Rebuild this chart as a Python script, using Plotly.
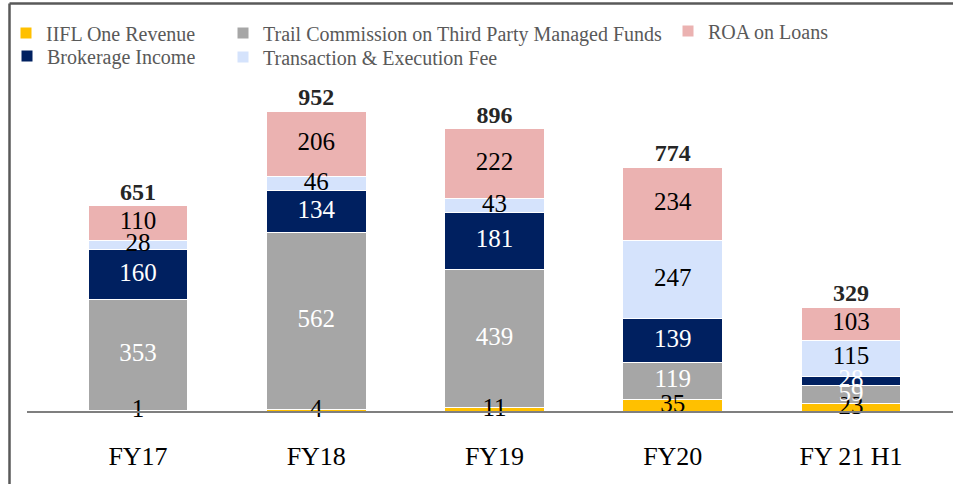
import plotly.graph_objects as go

categories = ["FY17", "FY18", "FY19", "FY20", "FY 21 H1"]
iifl_one = [1, 4, 11, 35, 23]
trail_commission = [353, 562, 439, 119, 59]
brokerage = [160, 134, 181, 139, 28]
transaction_fee = [28, 46, 43, 247, 115]
roa_loans = [110, 206, 222, 234, 103]
totals = [651, 952, 896, 774, 329]

W, H = 953, 484
M_L, M_R, M_T, M_B = 27, 0, 70, 73
plot_w = W - M_L - M_R
plot_h = H - M_T - M_B

SERIF = "Liberation Serif"
x_idx = list(range(len(categories)))

# name, values, fill colour, label colour, legend slot
series = {
    "IIFL One Revenue": (iifl_one, "#FFC000", "#000000", "legend"),
    "Trail Commission on Third Party Managed Funds": (trail_commission, "#A6A6A6", "#FFFFFF", "legend2"),
    "ROA on Loans": (roa_loans, "#EBB2B1", "#000000", "legend3"),
    "Brokerage Income": (brokerage, "#002060", "#FFFFFF", "legend4"),
    "Transaction & Execution Fee": (transaction_fee, "#D5E3FC", "#000000", "legend5"),
}
stack_order = ["IIFL One Revenue", "Trail Commission on Third Party Managed Funds",
               "Brokerage Income", "Transaction & Execution Fee", "ROA on Loans"]

fig = go.Figure()
for name in stack_order:
    vals, color, _, leg = series[name]
    fig.add_trace(go.Bar(
        x=x_idx, y=vals, name=name,
        marker=dict(color=color, line=dict(color="#FFFFFF", width=1)),
        legend=leg, hoverinfo="name+y",
    ))

# segment value labels, drawn on top of all bars so small segments stay readable
base = [0] * len(categories)
for name in stack_order:
    vals, _, tcolor, _ = series[name]
    centers = [b + v / 2 for b, v in zip(base, vals)]
    fig.add_trace(go.Scatter(
        x=x_idx, y=centers, mode="text", text=[str(v) for v in vals],
        textposition="middle center", showlegend=False, cliponaxis=False,
        hoverinfo="skip",
        textfont=dict(family=SERIF, size=25, color=tcolor),
    ))
    base = [b + v for b, v in zip(base, vals)]

# bold totals above each stack
fig.add_trace(go.Scatter(
    x=x_idx, y=totals, mode="text", text=[str(t) for t in totals],
    textposition="top center", showlegend=False, cliponaxis=False,
    hoverinfo="skip",
    textfont=dict(family=SERIF, size=24, color="#262626", weight="bold"),
))

px_per_unit = 0.315
y_max = plot_h / px_per_unit
unit_px = 178.25
x_left = -(138 - M_L) / unit_px
x_right = x_left + plot_w / unit_px


def paper_x(px):
    return (px - M_L) / plot_w


def paper_y(py):
    return (H - M_B - py) / plot_h


legend_common = dict(
    orientation="v", xanchor="left", yanchor="middle",
    font=dict(family=SERIF, size=20, color="#595959"),
    bgcolor="rgba(0,0,0,0)", tracegroupgap=0, itemwidth=30,
)

fig.update_layout(
    width=W, height=H,
    margin=dict(l=M_L, r=M_R, t=M_T, b=M_B),
    paper_bgcolor="#FFFFFF", plot_bgcolor="#FFFFFF",
    barmode="stack", bargap=0.44,
    showlegend=True,
    legend=dict(x=paper_x(6), y=paper_y(33), **legend_common),
    legend2=dict(x=paper_x(223), y=paper_y(33), **legend_common),
    legend3=dict(x=paper_x(668), y=paper_y(31), **legend_common),
    legend4=dict(x=paper_x(7), y=paper_y(56), **legend_common),
    legend5=dict(x=paper_x(223), y=paper_y(57), **legend_common),
    xaxis=dict(
        range=[x_left, x_right], tickmode="array", tickvals=x_idx, ticktext=categories,
        showgrid=False, zeroline=False, showline=True, linecolor="#7F7F7F", linewidth=2,
        ticks="", ticklabelstandoff=21,
        tickfont=dict(family=SERIF, size=26, color="#000000"),
    ),
    yaxis=dict(range=[0, y_max], visible=False, showgrid=False, zeroline=False),
    shapes=[
        dict(type="line", xref="paper", yref="paper",
             x0=paper_x(9.5), x1=paper_x(W + 5), y0=paper_y(3.5), y1=paper_y(3.5),
             line=dict(color="#595959", width=2.5)),
        dict(type="line", xref="paper", yref="paper",
             x0=paper_x(9.5), x1=paper_x(9.5), y0=paper_y(3.5), y1=paper_y(H + 5),
             line=dict(color="#595959", width=2.5)),
    ],
)

fig.write_html("out.html")
